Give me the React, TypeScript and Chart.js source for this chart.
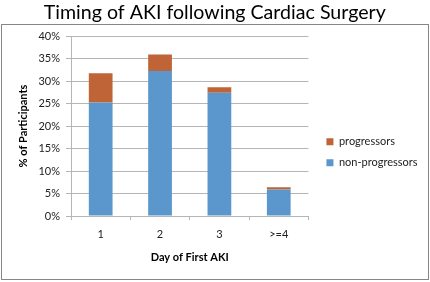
import React, { useEffect, useRef } from "react";
import { Chart, registerables } from "chart.js";

Chart.register(...registerables);

const categories = ["1", "2", "3", ">=4"];
const nonProgressors = [25.2, 32.2, 27.4, 5.9];
const progressors = [6.5, 3.7, 1.2, 0.5];
const yTicks = [0, 5, 10, 15, 20, 25, 30, 35, 40];

const FONT = "Lato, 'Open Sans', sans-serif";

const borderPlugin = {
  id: "outerBorder",
  beforeDraw(chart: any) {
    const ctx = chart.ctx;
    ctx.save();
    ctx.strokeStyle = "#868686";
    ctx.lineWidth = 1;
    ctx.strokeRect(1.5, 24.5, 427, 255);
    ctx.restore();
  },
};

// let the right-hand legend take the width its labels need
const legendWidthPlugin = {
  id: "legendWidth",
  beforeLayout(chart: any) {
    const lg = chart.legend;
    if (lg && !lg.__patched) {
      const orig = lg.fit.bind(lg);
      lg.fit = function () {
        orig();
        const pad = this.options.labels.padding;
        const cw = (this.columnSizes || []).reduce(
          (a: number, c: any) => Math.max(a, c.width),
          0
        );
        this.width = pad + cw + 10;
      };
      lg.__patched = true;
    }
  },
};

export default function App() {
  const ref = useRef<HTMLCanvasElement | null>(null);
  useEffect(() => {
    if (!ref.current) return;
    const chart = new Chart(ref.current, {
      type: "bar",
      data: {
        labels: categories,
        datasets: [
          {
            label: "non-progressors",
            data: nonProgressors,
            backgroundColor: "#5b97cc",
            barPercentage: 0.4,
            categoryPercentage: 1,
          },
          {
            label: "progressors",
            data: progressors,
            backgroundColor: "#bf6436",
            barPercentage: 0.4,
            categoryPercentage: 1,
          },
        ],
      },
      options: {
        animation: false,
        responsive: false,
        maintainAspectRatio: false,
        layout: { padding: { top: 1, left: 2, right: 2.5, bottom: 13.6 } },
        plugins: {
          title: {
            display: true,
            text: "Timing of AKI following Cardiac Surgery",
            color: "#000",
            font: { family: FONT, size: 19.6, weight: "normal" },
            padding: { top: 0, bottom: 11.5 },
          },
          legend: {
            position: "right",
            reverse: true,
            title: {
              display: true,
              text: " ",
              font: { family: FONT, size: 10 },
              padding: { top: 23, bottom: 0 },
            },
            labels: {
              boxWidth: 7,
              boxHeight: 7,
              padding: 10,
              color: "#222",
              font: { family: FONT, size: 11 },
            },
          },
          tooltip: { enabled: false },
        },
        scales: {
          x: {
            stacked: true,
            grid: {
              display: true,
              drawOnChartArea: false,
              drawTicks: true,
              tickLength: 4,
              color: "#b5b5b5",
              offset: true,
            },
            border: { color: "#b5b5b5" },
            ticks: { color: "#222", padding: 8, font: { family: FONT, size: 11 } },
            title: {
              display: true,
              text: "Day of First AKI",
              color: "#000",
              font: { family: FONT, size: 11, weight: "bold" },
              padding: { top: 2, bottom: 4 },
            },
          },
          y: {
            stacked: true,
            min: 0,
            max: 40,
            afterFit(scale: any) {
              scale.width = 69;
            },
            afterBuildTicks(scale: any) {
              scale.ticks = yTicks.map((v) => ({ value: v }));
            },
            grid: { color: "#b5b5b5", tickLength: 5, drawTicks: true },
            border: { color: "#b5b5b5" },
            ticks: {
              color: "#222",
              padding: 6,
              font: { family: FONT, size: 11 },
              callback: (v: any) => v + "%",
            },
            title: {
              display: true,
              text: "% of Participants",
              color: "#000",
              font: { family: FONT, size: 11, weight: "bold" },
              padding: { top: 15, bottom: 4 },
            },
          },
          y2: {
            position: "right",
            display: true,
            afterFit(scale: any) {
              scale.width = 8;
            },
            grid: { display: false },
            border: { display: false },
            ticks: { display: false },
          },
        },
      },
      plugins: [borderPlugin, legendWidthPlugin],
    } as any);
    return () => chart.destroy();
  }, []);
  return (
    <div style={{ position: "fixed", left: 0, top: 0, width: 430, height: 282 }}>
      <canvas ref={ref} width={430} height={282} style={{ width: 430, height: 282 }} />
    </div>
  );
}
